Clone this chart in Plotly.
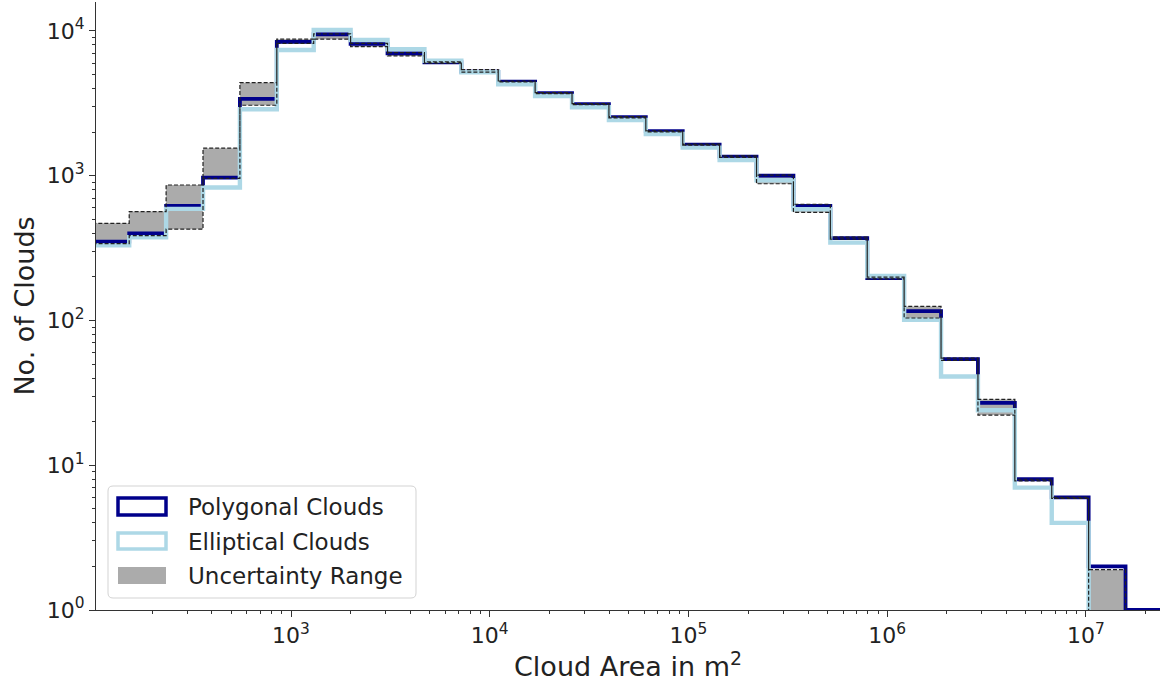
import numpy as np
import plotly.graph_objects as go

# Log-spaced area bins (m^2)
bin_edges = np.logspace(2.0, 7.3857, 30)

# Cloud counts per bin
polygonal = [350, 400, 618, 970, 3390, 8400, 9490, 8130, 7015, 6080,
             5230, 4470, 3715, 3118, 2535, 2028, 1641, 1355, 1000, 618,
             370, 196, 116, 54, 27, 8, 6, 2, 1]
elliptical = [330, 376, 590, 830, 2878, 7390, 10160, 8650, 7470, 6230,
              5190, 4285, 3557, 2972, 2428, 1941, 1564, 1285, 930, 586,
              345, 203, 101, 41, 24, 7, 4, 0, 0]

# Uncertainty range bounds per bin
upper = [469, 565, 863, 1549, 4393, 8770, 9550, 8200, 7080, 6120,
         5400, 4510, 3745, 3145, 2560, 2045, 1655, 1370, 1010, 635,
         376, 199, 125, 55, 28.5, 8, 6, 1.9]
lower = [340, 385, 427, 960, 3068, 8200, 8770, 7790, 6720, 6000,
         5200, 4440, 3690, 3095, 2510, 2010, 1625, 1340, 880, 559,
         365, 194, 104, 53, 22.2, 7.8, 5.9, 0]

x_tick_vals = [1e3, 1e4, 1e5, 1e6, 1e7]
x_tick_text = ["10<sup>3</sup>", "10<sup>4</sup>", "10<sup>5</sup>",
               "10<sup>6</sup>", "10<sup>7</sup>"]
y_tick_vals = [1, 10, 100, 1000, 10000]
y_tick_text = ["10<sup>0</sup>", "10<sup>1</sup>", "10<sup>2</sup>",
               "10<sup>3</sup>", "10<sup>4</sup>"]

legend_labels = ["Polygonal Clouds", "Elliptical Clouds", "Uncertainty Range"]

DARK = "#00008b"
LIGHT = "#add8e6"
GRAY = "#ababab"
FONT = "DejaVu Sans"
FLOOR = 1e-2  # empty bins drop below the visible range


def vis(v):
    return v if v > 0 else FLOOR


def step_path(counts):
    xs, ys = [], []
    for k, c in enumerate(counts):
        xs += [bin_edges[k], bin_edges[k + 1]]
        ys += [vis(c), vis(c)]
    return xs, ys


def band_path(hi, lo):
    xs, ys = [], []
    for k, v in enumerate(hi):
        xs += [bin_edges[k], bin_edges[k + 1]]
        ys += [vis(v), vis(v)]
    for k in range(len(lo) - 1, -1, -1):
        xs += [bin_edges[k + 1], bin_edges[k]]
        ys += [vis(lo[k]), vis(lo[k])]
    xs.append(xs[0])
    ys.append(ys[0])
    return xs, ys


fig = go.Figure()

bx, by = band_path(upper, lower)
fig.add_trace(go.Scatter(x=bx, y=by, mode="lines", fill="toself",
                         fillcolor=GRAY, line=dict(width=0),
                         hoverinfo="skip", showlegend=False))

px_, py_ = step_path(polygonal)
fig.add_trace(go.Scatter(x=px_, y=py_, mode="lines",
                         line=dict(color=DARK, width=3.8),
                         name=legend_labels[0], showlegend=False))

ex, ey = step_path(elliptical)
fig.add_trace(go.Scatter(x=ex, y=ey, mode="lines",
                         line=dict(color=LIGHT, width=4.4),
                         name=legend_labels[1], showlegend=False))

fig.add_trace(go.Scatter(x=bx, y=by, mode="lines",
                         line=dict(color="#222222", width=1.2, dash="4px,2px"),
                         hoverinfo="skip", showlegend=False))

# Plot-area geometry in pixels
W, H = 1163, 682
L, R, T, B = 96, 1160, 2, 610


def fx(p):
    return (p - L) / (R - L)


def fy(p):
    return (B - p) / (B - T)


minor_x = [m * 10 ** e for e in range(2, 8) for m in range(2, 10)]
minor_y = [m * 10 ** e for e in range(0, 5) for m in range(2, 10)]

fig.update_layout(
    width=W, height=H,
    margin=dict(l=L, r=W - R, t=T, b=H - B),
    paper_bgcolor="white", plot_bgcolor="white",
    font=dict(family=FONT, color="#222222"),
    xaxis=dict(type="log", range=[2.0186, 7.3734],
               tickvals=x_tick_vals, ticktext=x_tick_text,
               ticks="outside", ticklen=6, tickwidth=1, tickcolor="#333",
               minor=dict(tickvals=minor_x, ticks="outside", ticklen=3,
                          tickwidth=1, tickcolor="#333", showgrid=False),
               showgrid=False, zeroline=False,
               showline=True, linecolor="#333", linewidth=1,
               tickfont=dict(size=22, family=FONT),
               title=dict(text="Cloud Area in m<sup>2</sup>",
                          font=dict(size=27, family=FONT), standoff=5),
               automargin=False),
    yaxis=dict(type="log", range=[0, 4.2],
               tickvals=y_tick_vals, ticktext=y_tick_text,
               ticks="outside", ticklen=6, tickwidth=1, tickcolor="#333",
               minor=dict(tickvals=minor_y, ticks="outside", ticklen=3,
                          tickwidth=1, tickcolor="#333", showgrid=False),
               showgrid=False, zeroline=False,
               showline=True, linecolor="#333", linewidth=1,
               tickfont=dict(size=22, family=FONT),
               title=dict(text="No. of Clouds",
                          font=dict(size=27, family=FONT), standoff=4),
               automargin=False),
    showlegend=False,
)

# Legend box
x0, x1, y0, y1, r = 108, 416, 486, 598, 5
box = (f"M {fx(x0 + r)},{fy(y0)} L {fx(x1 - r)},{fy(y0)} "
       f"Q {fx(x1)},{fy(y0)} {fx(x1)},{fy(y0 + r)} "
       f"L {fx(x1)},{fy(y1 - r)} Q {fx(x1)},{fy(y1)} {fx(x1 - r)},{fy(y1)} "
       f"L {fx(x0 + r)},{fy(y1)} Q {fx(x0)},{fy(y1)} {fx(x0)},{fy(y1 - r)} "
       f"L {fx(x0)},{fy(y0 + r)} Q {fx(x0)},{fy(y0)} {fx(x0 + r)},{fy(y0)} Z")
fig.add_shape(type="path", path=box, xref="paper", yref="paper",
              fillcolor="rgba(255,255,255,0.85)",
              line=dict(color="#d3d3d3", width=1))

icons = [
    dict(y0=498, y1=515, line=dict(color=DARK, width=3.5), fillcolor="rgba(0,0,0,0)"),
    dict(y0=533, y1=549, line=dict(color=LIGHT, width=3.5), fillcolor="rgba(0,0,0,0)"),
    dict(y0=567, y1=584, line=dict(width=0), fillcolor=GRAY),
]
text_y = [506.5, 541.5, 576]
for ic, label, ty in zip(icons, legend_labels, text_y):
    fig.add_shape(type="rect", xref="paper", yref="paper",
                  x0=fx(118), x1=fx(166), y0=fy(ic["y1"]), y1=fy(ic["y0"]),
                  line=ic["line"], fillcolor=ic["fillcolor"])
    fig.add_annotation(x=fx(186), y=fy(ty), xref="paper", yref="paper",
                       text=label, showarrow=False, xanchor="left",
                       yanchor="middle", font=dict(size=23, family=FONT,
                                                   color="#222222"))

fig.write_html("out.html")
